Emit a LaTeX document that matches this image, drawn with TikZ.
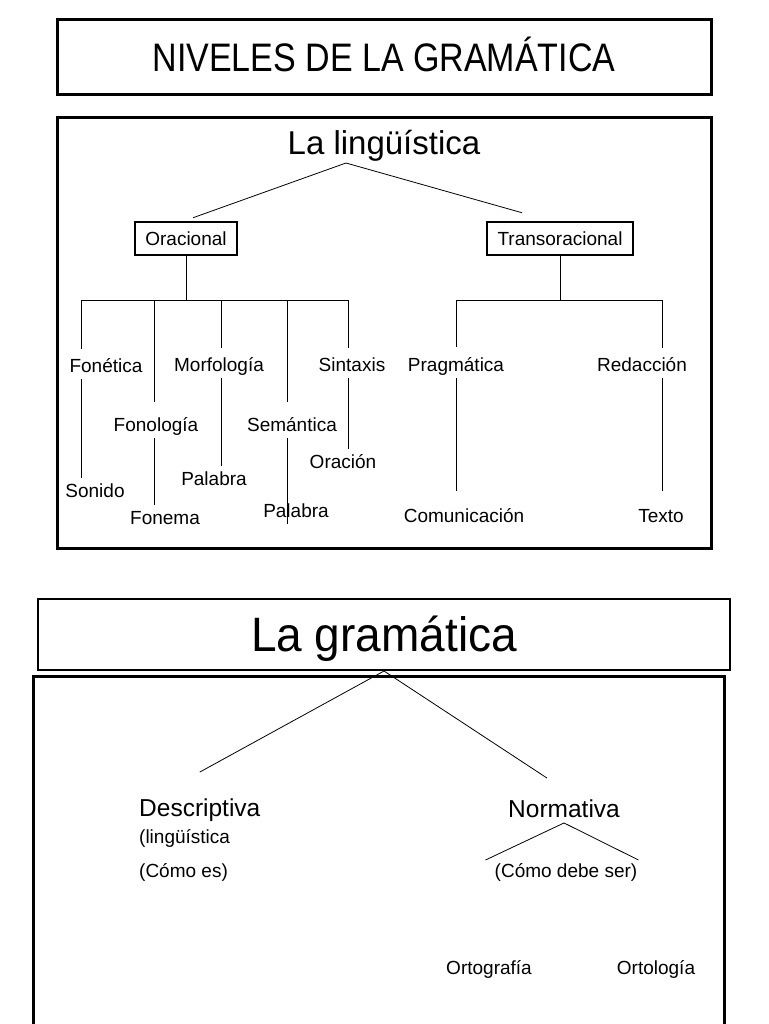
\documentclass[tikz,border=0pt]{standalone}
\usepackage{fontspec}
\setmainfont{Liberation Sans}
\usetikzlibrary{positioning}

\begin{document}
\begin{tikzpicture}[x=1pt, y=-1pt, every node/.style={align=center, inner sep=1pt},
    frame/.style={draw, line width=3pt, inner sep=0pt},
    catbox/.style={draw, line width=2.5pt, font=\fontsize{19}{21}\selectfont, minimum height=33pt},
    leaf/.style={font=\fontsize{19}{21}\selectfont, text height=13.6pt, text depth=0pt, inner ysep=6pt},
    head/.style={font=\fontsize{24.5}{28}\selectfont, text height=17.5pt, text depth=0pt, inner ysep=5pt},
    link/.style={line width=0.8pt}]
    \useasboundingbox (0,0) rectangle (768,1024);
    \node[frame, minimum width=654, minimum height=75, font=\fontsize{34}{36}\selectfont, text height=28.5pt, text depth=0pt] (niveles) at (384,57.5) {\scalebox{1}[1.17]{NIVELES DE LA GRAMÁTICA}};

    \node[frame, minimum width=654, minimum height=430] (lingbox) at (384,333) {};
    \node[font=\fontsize{33}{36}\selectfont, text height=23.6pt, text depth=0pt] (ling) at (384,143) {La lingüística};
    \node[catbox, minimum width=102] (orac) at (186,238.5) {Oracional};
    \node[catbox, minimum width=146] (trans) at (560,238.5) {Transoracional};
    \draw[link] ([xshift=-38pt,yshift=-7pt]ling.south) -- ([xshift=7pt,yshift=3pt]orac.north);
    \draw[link] ([xshift=-38pt,yshift=-7pt]ling.south) -- ([xshift=-38pt,yshift=8pt]trans.north);

    \coordinate (o1) at (81,300);
    \coordinate (o2) at (154,300);
    \coordinate (o3) at (221,300);
    \coordinate (o4) at (287,300);
    \coordinate (o5) at (348,300);
    \draw[link] (orac.south) -- (orac.south |- o1);
    \draw[link] (o1) -- (o5);

    \node[leaf] (fonetica) at (106,366) {Fonética};
    \node[leaf] (sonido) at (95,491) {Sonido};
    \node[leaf] (fonologia) at (156,425) {Fonología};
    \node[leaf] (fonema) at (165,518) {Fonema};
    \node[leaf] (morfologia) at (219,365) {Morfología};
    \node[leaf] (palabra1) at (214,479) {Palabra};
    \node[leaf] (semantica) at (292,425) {Semántica};
    \node[leaf] (palabra2) at (296,511) {Palabra};
    \node[leaf] (sintaxis) at (352,365) {Sintaxis};
    \node[leaf] (oracion) at (343,462) {Oración};

    \draw[link] (o1) -- ([yshift=4pt]o1 |- fonetica.north);
    \draw[link] (o1 |- fonetica.south) -- (o1 |- sonido.north);
    \draw[link] (o2) -- ([yshift=10pt]o2 |- fonologia.north);
    \draw[link] (o2 |- fonologia.south) -- (o2 |- fonema.north);
    \draw[link] (o3) -- ([yshift=4pt]o3 |- morfologia.north);
    \draw[link] (o3 |- morfologia.south) -- (o3 |- palabra1.north);
    \draw[link] (o4) -- ([yshift=10pt]o4 |- semantica.north);
    \draw[link] (o4 |- semantica.south) -- (o4 |- palabra2.south);
    \draw[link] (o5) -- ([yshift=4pt]o5 |- sintaxis.north);
    \draw[link] (o5 |- sintaxis.south) -- (o5 |- oracion.north);

    \coordinate (t1) at (456,300);
    \coordinate (t2) at (662,300);
    \draw[link] (trans.south) -- (trans.south |- t1);
    \draw[link] (t1) -- (t2);
    \node[leaf] (pragmatica) at (456,365) {Pragmática};
    \node[leaf] (comunicacion) at (464,516) {Comunicación};
    \node[leaf] (redaccion) at (642,365) {Redacción};
    \node[leaf] (texto) at (661,516) {Texto};
    \draw[link] (t1) -- ([yshift=5pt]t1 |- pragmatica.north);
    \draw[link] (t1 |- pragmatica.south) -- ([yshift=12pt]t1 |- comunicacion.north);
    \draw[link] (t2) -- ([yshift=4pt]t2 |- redaccion.north);
    \draw[link] (t2 |- redaccion.south) -- ([yshift=12pt]t2 |- texto.north);

    \node[frame, line width=2pt, minimum width=692, minimum height=71, font=\fontsize{46}{50}\selectfont, text height=34.6pt, text depth=0pt] (gram) at (384,634.5) {\scalebox{1}[1.05]{La gramática}};
    \draw[line width=3pt] (33,1034) -- (33,676) -- (724,676) -- (724,1034);

    \node[head, anchor=west] (desc) at (138,808) {Descriptiva};
    \node[leaf, anchor=west] (lingsub) at (138,837) {(lingüística};
    \node[leaf, anchor=west] (comoes) at (138,871) {(Cómo es)};
    \node[head] (norm) at (564,809) {Normativa};
    \node[leaf] (debe) at (566,871) {(Cómo debe ser)};
    \node[leaf] (ortografia) at (489,968) {Ortografía};
    \node[leaf] (ortologia) at (656,968) {Ortología};
    \draw[link] (gram.south) -- ([yshift=22pt]desc.north);
    \draw[link] (gram.south) -- ([xshift=-17pt,yshift=17pt]norm.north);
    \draw[link] (norm.south) -- ([xshift=-8pt,yshift=-2pt]debe.north west);
    \draw[link] (norm.south) -- ([yshift=-2pt]debe.north east);
\end{tikzpicture}
\end{document}
